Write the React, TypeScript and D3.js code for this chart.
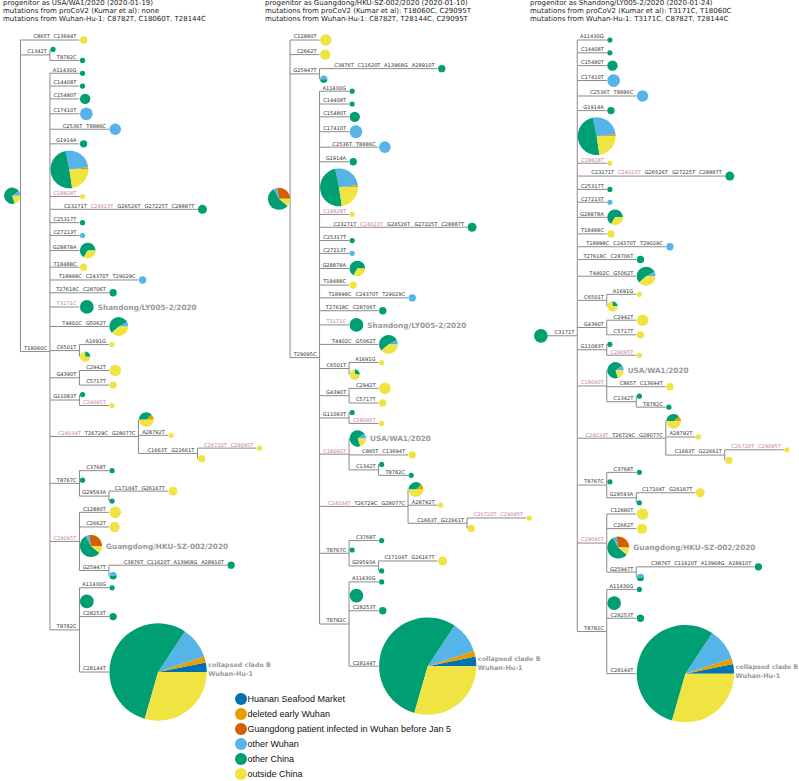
import React from 'react';
import * as d3 from 'd3';

// ---------- categories / legend ----------
const CATEGORY_LABELS = [
  'Huanan Seafood Market',
  'deleted early Wuhan',
  'Guangdong patient infected in Wuhan before Jan 5',
  'other Wuhan',
  'other China',
  'outside China',
];
const CATEGORY_COLORS = ['#0072B2', '#E69F00', '#D55E00', '#56B4E9', '#009E73', '#F0E442'];

// mutations highlighted (pink) in branch labels
const HIGHLIGHT_MUTATIONS = ['C18828T', 'C24023T', 'T3171C', 'C29095T', 'C24034T', 'C26720T', 'C18060T'];

// ---------- sequence counts per category [HSM, deleted, GD, otherWuhan, otherChina, outside] ----------
const PIE_WA1 = [0, 0, 0, 1, 7, 2];
const PIE_SHANDONG = [0, 0, 0, 0, 7, 0];
const PIE_GUANGDONG = [0, 0, 5, 1, 10, 2];
const PIE_CLADE_B = [11, 7, 0, 37, 192, 103];
const PIE_BIG_A = [0, 1, 0, 14, 26, 12];
const PIE_G28878A = [0, 0, 0, 0, 6, 3];
const PIE_T4402C = [0, 0, 0, 1, 7, 5];
const PIE_C6501T = [0, 0, 0, 0, 1, 3];
const PIE_C24034T = [0, 1, 0, 0, 3, 4];
const PIE_G25947T = [0, 0, 0, 1, 1, 0];
const GREEN_1 = [0, 0, 0, 0, 1, 0];
const GREEN_2 = [0, 0, 0, 0, 2, 0];
const GREEN_3 = [0, 0, 0, 0, 3, 0];
const GREEN_4 = [0, 0, 0, 0, 4, 0];
const GREEN_7 = [0, 0, 0, 0, 7, 0];
const YELLOW_1 = [0, 0, 0, 0, 0, 1];
const YELLOW_2 = [0, 0, 0, 0, 0, 2];
const YELLOW_3 = [0, 0, 0, 0, 0, 3];
const YELLOW_4 = [0, 0, 0, 0, 0, 4];
const YELLOW_5 = [0, 0, 0, 0, 0, 5];
const BLUE_1 = [0, 0, 0, 1, 0, 0];
const BLUE_2 = [0, 0, 0, 2, 0, 0];
const BLUE_5 = [0, 0, 0, 5, 0, 0];
const BLUE_6 = [0, 0, 0, 6, 0, 0];

// ---------- headers ----------
const HEADERS_WA1 = [
  'progenitor as USA/WA1/2020 (2020-01-19)',
  'mutations from proCoV2 (Kumar et al): none',
  'mutations from Wuhan-Hu-1: C8782T, C18060T, T28144C',
];
const HEADERS_GD = [
  'progenitor as Guangdong/HKU-SZ-002/2020 (2020-01-10)',
  'mutations from proCoV2 (Kumar et al): T18060C, C29095T',
  'mutations from Wuhan-Hu-1: C8782T, T28144C, C29095T',
];
const HEADERS_SD = [
  'progenitor as Shandong/LY005-2/2020 (2020-01-24)',
  'mutations from proCoV2 (Kumar et al): T3171C, T18060C',
  'mutations from Wuhan-Hu-1: T3171C, C8782T, T28144C',
];

// ---------- tree topology ----------
type TNode = { mut: string[]; pie?: number[]; tag?: string[]; children?: TNode[] };
const leaf = (mut: string[], pie: number[], tag?: string[]): TNode => ({ mut, pie, tag });
const node = (mut: string[], children: TNode[]): TNode => ({ mut, children });

const UPPER_LEAVES = [
  leaf(['A11430G'], GREEN_1),
  leaf(['C14408T'], GREEN_1),
  leaf(['C15480T'], GREEN_4),
  leaf(['C17410T'], BLUE_6),
  leaf(['C2536T', 'T8886C'], BLUE_5),
  leaf(['G1914A'], GREEN_2),
  leaf([], PIE_BIG_A),
  leaf(['C18828T'], YELLOW_1),
  leaf(['C23271T', 'C24023T', 'G26526T', 'G27225T', 'C28887T'], GREEN_3),
  leaf(['C25317T'], GREEN_1),
  leaf(['C27213T'], BLUE_1),
  leaf(['G28878A'], PIE_G28878A),
  leaf(['T18488C'], YELLOW_2),
  leaf(['T18998C', 'C24370T', 'T29029C'], BLUE_2),
  leaf(['T27618C', 'C28706T'], GREEN_2),
];
const SHANDONG_LEAF = leaf(['T3171C'], PIE_SHANDONG, ['Shandong/LY005-2/2020']);
const T4402C_LEAF = leaf(['T4402C', 'G5062T'], PIE_T4402C);
const C6501T_CLADE = node(['C6501T'], [leaf(['A1691G'], YELLOW_1), leaf([], PIE_C6501T)]);
const G4390T_CLADE = node(['G4390T'], [leaf(['C2942T'], YELLOW_5), leaf(['C5717T'], YELLOW_2)]);
const G11083T_CLADE = node(['G11083T'], [leaf([], GREEN_1), leaf(['C29095T'], YELLOW_1)]);
const C24034T_CLADE = node(['C24034T', 'T26729C', 'G28077C'], [
  leaf([], PIE_C24034T),
  leaf(['A28792T'], YELLOW_1),
  node(['C1663T', 'G22661T'], [leaf(['C26720T', 'C29095T'], YELLOW_1), leaf([], YELLOW_2)]),
]);
const T8767C_CLADE = node(['T8767C'], [
  leaf(['C3768T'], GREEN_1),
  leaf([], GREEN_1),
  node(['G29593A'], [leaf(['C17104T', 'G26167T'], YELLOW_3), leaf([], GREEN_1)]),
]);
const G25947T_CLADE = node(['G25947T'], [
  leaf(['C3876T', 'C11620T', 'A13968G', 'A28910T'], GREEN_2),
  leaf([], PIE_G25947T),
]);
const C29095T_CLADE = node(['C29095T'], [
  leaf(['C12880T'], YELLOW_5),
  leaf(['C2662T'], YELLOW_4),
  leaf([], PIE_GUANGDONG, ['Guangdong/HKU-SZ-002/2020']),
  G25947T_CLADE,
]);
const T8782C_CLADE = node(['T8782C'], [
  leaf(['A11430G'], GREEN_1),
  leaf([], GREEN_7),
  leaf(['C28253T'], GREEN_2),
  leaf(['C28144T'], PIE_CLADE_B, ['collapsed clade B', 'Wuhan-Hu-1']),
]);
const C1342T_CLADE = node(['C1342T'], [leaf([], GREEN_1), leaf(['T8782C'], GREEN_1)]);
const C18060T_CLADE = node(['C18060T'], [
  leaf([], PIE_WA1, ['USA/WA1/2020']),
  leaf(['C865T', 'C13694T'], YELLOW_2),
  C1342T_CLADE,
]);

const TREE_WA1: TNode = {
  mut: [], pie: PIE_WA1, children: [
    leaf(['C865T', 'C13694T'], YELLOW_2),
    C1342T_CLADE,
    node(['T18060C'], [...UPPER_LEAVES, SHANDONG_LEAF, T4402C_LEAF, C6501T_CLADE, G4390T_CLADE,
      G11083T_CLADE, C24034T_CLADE, T8767C_CLADE, C29095T_CLADE, T8782C_CLADE]),
  ],
};
const TREE_GD: TNode = {
  mut: [], pie: PIE_GUANGDONG, children: [
    leaf(['C12880T'], YELLOW_5),
    leaf(['C2662T'], YELLOW_4),
    G25947T_CLADE,
    node(['T29095C'], [...UPPER_LEAVES, SHANDONG_LEAF, T4402C_LEAF, C6501T_CLADE, G4390T_CLADE,
      G11083T_CLADE, C18060T_CLADE, C24034T_CLADE, T8767C_CLADE, T8782C_CLADE]),
  ],
};
const TREE_SD: TNode = {
  mut: [], pie: PIE_SHANDONG, children: [
    node(['C3171T'], [...UPPER_LEAVES, T4402C_LEAF, C6501T_CLADE, G4390T_CLADE, G11083T_CLADE,
      C18060T_CLADE, C24034T_CLADE, T8767C_CLADE, C29095T_CLADE, T8782C_CLADE]),
  ],
};

// ---------- layout ----------
const xScale = d3.scaleLinear().domain([0, 1]).range([0, 29.5]);
const rScale = d3.scaleSqrt().domain([0, 1]).range([0, 2.6]);

type P = { n: TNode; x: number; raw: number; r: number; kids: P[] };

function layoutTree(root: TNode, rootX: number) {
  let cursor = 0;
  let prevBot: number | null = null;
  function place(n: TNode, px: number): P {
    const x = px + xScale(n.mut.length);
    if (n.children) {
      const kids = n.children.map((c) => place(c, x));
      return { n, x, raw: (kids[0].raw + kids[kids.length - 1].raw) / 2, r: 0, kids };
    }
    const r = rScale(d3.sum(n.pie!));
    const zero = n.mut.length === 0;
    const top = zero ? r + 2 : Math.max(r + 2.5, 8);
    const bot = zero ? r + 0.5 : Math.max(r + 1, 5);
    if (prevBot !== null) cursor += prevBot + top;
    prevBot = bot;
    return { n, x, raw: cursor, r, kids: [] };
  }
  const p = place(root, rootX);
  p.r = rScale(d3.sum(root.pie!));
  return { p, last: cursor };
}

const pieGen = d3.pie<number>().sort(null).value((d) => d).startAngle(Math.PI / 2).endAngle(Math.PI / 2 - 2 * Math.PI);

function Pie({ cx, cy, r, counts }: { cx: number; cy: number; r: number; counts: number[] }) {
  const arcs = pieGen(counts);
  const arcGen = d3.arc<d3.PieArcDatum<number>>().innerRadius(0).outerRadius(r);
  return (
    <g transform={`translate(${cx},${cy})`}>
      {arcs.filter((a) => a.value > 0).map((a, i) => (
        <path key={i} d={arcGen(a) || ''} fill={CATEGORY_COLORS[a.index]} />
      ))}
    </g>
  );
}

const LINE_COLOR = '#8a8a8a';
const MUT_FONT = 'DejaVu Sans, Verdana, sans-serif';

function Panel({ tree, headers, headerX, treeX, yScale }: { tree: TNode; headers: string[]; headerX: number; treeX: number; yScale: (v: number) => number }) {
  const rootR = rScale(d3.sum(tree.pie!));
  const { p: root } = layoutTree(tree, treeX + 2 * rootR);
  const lines: React.ReactNode[] = [];
  const pies: React.ReactNode[] = [];
  const texts: React.ReactNode[] = [];
  let k = 0;
  function walk(p: P, parent: P | null) {
    const y = yScale(p.raw);
    if (parent && p.x > parent.x) {
      lines.push(<line key={k++} x1={parent.x} x2={p.x} y1={y} y2={y} />);
    }
    if (p.n.mut.length) {
      texts.push(
        <text key={k++} x={p.x - 3} y={y - 1.6} textAnchor="end" fontSize={5.1} fontFamily={MUT_FONT} fill="#333">
          {p.n.mut.map((m, i) => (
            <tspan key={i} dx={i > 0 ? 4 : 0} fill={HIGHLIGHT_MUTATIONS.includes(m) ? '#CC79A7' : '#333'}>{m}</tspan>
          ))}
        </text>
      );
    }
    if (p.kids.length) {
      const y0 = yScale(p.kids[0].raw);
      const y1 = yScale(p.kids[p.kids.length - 1].raw);
      if (y1 > y0) lines.push(<line key={k++} x1={p.x} x2={p.x} y1={y0} y2={y1} />);
      p.kids.forEach((c) => walk(c, p));
    } else {
      const cx = p.x + p.r + 0.5;
      pies.push(<Pie key={k++} cx={cx} cy={y} r={p.r} counts={p.n.pie!} />);
      if (p.n.tag) {
        if (p.n.tag.length === 2) {
          texts.push(
            <text key={k++} x={cx + p.r + 1.5} y={y} fontSize={6.4} fontWeight="bold" fontFamily={MUT_FONT} fill="#9a9a9a">
              <tspan x={cx + p.r + 1.5} dy={-5}>{p.n.tag[0]}</tspan>
              <tspan x={cx + p.r + 1.5} dy={9}>{p.n.tag[1]}</tspan>
            </text>
          );
        } else {
          texts.push(
            <text key={k++} x={cx + p.r + 4} y={y + 2.6} fontSize={7.3} fontWeight="bold" fontFamily={MUT_FONT} fill="#9a9a9a">
              {p.n.tag[0]}
            </text>
          );
        }
      }
    }
  }
  walk(root, null);
  const rootY = yScale(root.raw);
  return (
    <g>
      {headers.map((h, i) => (
        <text key={i} x={headerX} y={5.3 + i * 7.7} fontSize={7} fontFamily={MUT_FONT} fill="#222">{h}</text>
      ))}
      <g stroke={LINE_COLOR} strokeWidth={1} fill="none">{lines}</g>
      <Pie cx={root.x - rootR} cy={rootY} r={rootR} counts={tree.pie!} />
      {pies}
      {texts}
    </g>
  );
}

export default function App() {
  const ref = layoutTree(TREE_WA1, 0);
  const yScale = d3.scaleLinear().domain([0, ref.last]).range([40, 672]);
  return (
    <svg width={799} height={781} style={{ position: 'absolute', left: 0, top: 0, background: '#fff' }}>
      <rect width={799} height={781} fill="#fff" />
      <Panel tree={TREE_WA1} headers={HEADERS_WA1} headerX={3} treeX={4} yScale={yScale} />
      <Panel tree={TREE_GD} headers={HEADERS_GD} headerX={265} treeX={268} yScale={yScale} />
      <Panel tree={TREE_SD} headers={HEADERS_SD} headerX={530} treeX={534} yScale={yScale} />
      <g>
        {CATEGORY_LABELS.map((c, i) => (
          <g key={c} transform={`translate(241,${699 + i * 15})`}>
            <circle r={6} fill={CATEGORY_COLORS[i]} />
            <text x={6.5} y={3.3} fontSize={9} fontFamily="Liberation Sans, Arial, sans-serif" fill="#111">{c}</text>
          </g>
        ))}
      </g>
    </svg>
  );
}
